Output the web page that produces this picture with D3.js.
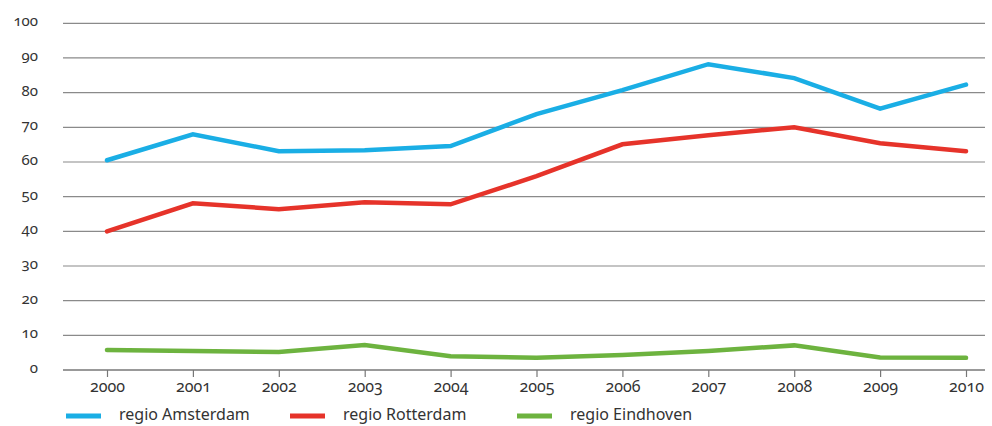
<!DOCTYPE html>
<html>
<head>
<meta charset="utf-8">
<script src="https://cdn.jsdelivr.net/npm/d3@7"></script>
<style>
  html, body { margin: 0; padding: 0; background: #fff; }
  svg text { font-family: "Noto Sans", "Open Sans", sans-serif; fill: #333; font-variant-numeric: oldstyle-nums; font-feature-settings: "onum"; }
</style>
</head>
<body>
<svg id="chart" width="992" height="426"></svg>
<script>
const years = [2000, 2001, 2002, 2003, 2004, 2005, 2006, 2007, 2008, 2009, 2010];
const amsterdam = [60.5, 68.0, 63.1, 63.4, 64.6, 73.8, 80.7, 88.2, 84.2, 75.4, 82.3];
const rotterdam = [40.0, 48.1, 46.4, 48.4, 47.8, 55.9, 65.1, 67.7, 70.0, 65.4, 63.1];
const eindhoven = [5.8, 5.5, 5.2, 7.2, 4.0, 3.5, 4.3, 5.5, 7.1, 3.6, 3.5];
const yTicks = [0, 10, 20, 30, 40, 50, 60, 70, 80, 90, 100];
const seriesNames = ["regio Amsterdam", "regio Rotterdam", "regio Eindhoven"];
const seriesColors = ["#1aaee5", "#e6332a", "#6db33f"];

const svg = d3.select("#chart");
const x = d3.scaleLinear().domain([2000, 2010]).range([107, 966]);
const y = d3.scaleLinear().domain([0, 100]).range([370, 23.3]);
const gridLeft = 63, gridRight = 985;

// horizontal gridlines
svg.append("g").selectAll("line").data(yTicks.filter(d => d > 0)).join("line")
  .attr("x1", gridLeft).attr("x2", gridRight)
  .attr("y1", d => y(d)).attr("y2", d => y(d))
  .attr("stroke", "#8a8a8a").attr("stroke-width", 1.2);

// y labels
svg.append("g").selectAll("text").data(yTicks).join("text")
  .attr("x", 38).attr("y", d => y(d) - 1)
  .attr("text-anchor", "end").attr("dominant-baseline", "middle")
  .attr("font-size", 15)
  .text(d => d);

// x axis
const xAxis = d3.axisBottom(x).tickValues(years).tickFormat(d3.format("d"))
  .tickSizeInner(7).tickSizeOuter(0).tickPadding(4);
const gx = svg.append("g").attr("transform", "translate(0,370)").call(xAxis);
gx.attr("font-family", null).attr("font-size", null);
gx.select(".domain").remove();
gx.selectAll(".tick line").attr("stroke", "#777").attr("stroke-width", 1.2);
gx.selectAll(".tick text").attr("font-size", 16).attr("fill", "#333");
gx.append("line").attr("x1", gridLeft).attr("x2", gridRight).attr("y1", 0).attr("y2", 0)
  .attr("stroke", "#777").attr("stroke-width", 1.5);

// series lines
const line = d3.line().x((d, i) => x(years[i])).y(d => y(d));
[amsterdam, rotterdam, eindhoven].forEach((vals, k) => {
  svg.append("path").datum(vals)
    .attr("d", line)
    .attr("fill", "none")
    .attr("stroke", seriesColors[k])
    .attr("stroke-width", 4.5)
    .attr("stroke-linejoin", "miter")
    .attr("stroke-linecap", "round");
});

// legend
const legendX = [66, 290, 517];
seriesNames.forEach((name, k) => {
  const g = svg.append("g").attr("transform", `translate(${legendX[k]},416)`);
  g.append("line").attr("x1", 0).attr("x2", 35).attr("y1", 0).attr("y2", 0)
    .attr("stroke", seriesColors[k]).attr("stroke-width", 5);
  g.append("text").attr("x", 53).attr("y", 0).attr("dominant-baseline", "middle")
    .attr("font-size", 16).text(name);
});
</script>
</body>
</html>
